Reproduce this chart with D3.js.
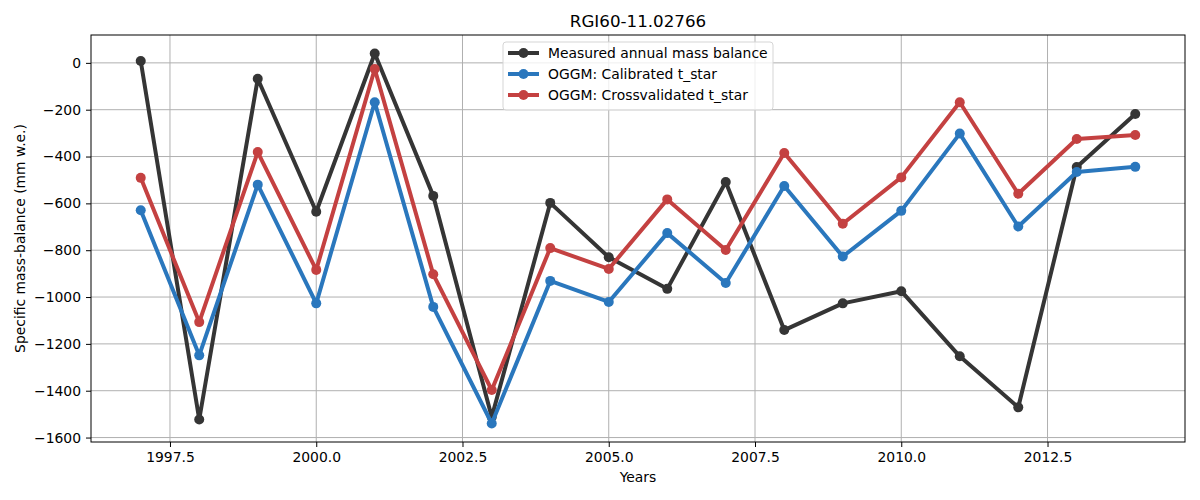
<!DOCTYPE html>
<html>
<head>
<meta charset="utf-8">
<style>
	body{ margin:0; background:#fff; }
	text{ font-family:"DejaVu Sans", sans-serif; fill:#000; }
	.grid line{ stroke:#b0b0b0; stroke-width:1; }
</style>
</head>
<body>
<script src="https://d3js.org/d3.v7.min.js"></script>
<script>

	var width = 1200,
	    height = 500;

	// years and series (mm w.e.)
	var years = [1997, 1998, 1999, 2000, 2001, 2002, 2003, 2004, 2005, 2006, 2007, 2008, 2009, 2010, 2011, 2012, 2013, 2014];
	var measured = [8, -1523, -68, -636, 40, -568, -1512, -598, -830, -965, -509, -1141, -1027, -975, -1253, -1471, -445, -218];
	var calibrated = [-629, -1249, -520, -1027, -168, -1042, -1540, -931, -1021, -727, -940, -526, -827, -632, -302, -699, -466, -444];
	var crossval = [-491, -1107, -381, -884, -26, -903, -1397, -791, -880, -583, -799, -385, -687, -489, -168, -559, -325, -308];

	var seriesNames = ["Measured annual mass balance", "OGGM: Calibrated t_star", "OGGM: Crossvalidated t_star"];
	var seriesColors = ["#353535", "#2a77bd", "#c44141"];
	var xTicks = [1997.5, 2000, 2002.5, 2005, 2007.5, 2010, 2012.5];
	var yTicks = [0, -200, -400, -600, -800, -1000, -1200, -1400, -1600];

	var margin = {left: 91, right: 15, top: 35, bottom: 58};
	var fs = "13.9px";

	var svg = d3.select("body")
		.append("svg")
		.attr("width", width)
		.attr("height", height);

	var x = d3.scaleLinear()
		.domain([1996.15, 2014.85])
		.range([margin.left, width - margin.right]);

	var y = d3.scaleLinear()
		.domain([-1619, 119])
		.range([height - margin.bottom, margin.top]);

	// grid
	var grid = svg.append("g").attr("class", "grid");
	grid.selectAll(".gx").data(xTicks).enter().append("line")
		.attr("x1", d => x(d)).attr("x2", d => x(d))
		.attr("y1", margin.top).attr("y2", height - margin.bottom);
	grid.selectAll(".gy").data(yTicks).enter().append("line")
		.attr("x1", margin.left).attr("x2", width - margin.right)
		.attr("y1", d => y(d)).attr("y2", d => y(d));

	// lines
	var allSeries = [measured, calibrated, crossval];
	var line = d3.line()
		.x((d, i) => x(years[i]))
		.y(d => y(d));

	allSeries.forEach(function(s, k){
		var g = svg.append("g");
		g.append("path")
			.datum(s)
			.attr("d", line)
			.attr("fill", "none")
			.attr("stroke", seriesColors[k])
			.attr("stroke-width", 4)
			.attr("stroke-linejoin", "round");
		g.selectAll("circle").data(s).enter().append("circle")
			.attr("cx", (d, i) => x(years[i]))
			.attr("cy", d => y(d))
			.attr("r", 5)
			.attr("fill", seriesColors[k]);
	});

	// axes
	var xAxis = d3.axisBottom(x).tickValues(xTicks).tickFormat(d3.format(".1f")).tickSizeOuter(0).tickSize(5).tickPadding(5);
	var yAxis = d3.axisLeft(y).tickValues(yTicks).tickFormat(d => d < 0 ? "\u2212" + Math.abs(d) : d).tickSizeOuter(0).tickSize(5).tickPadding(5);

	var gx = svg.append("g")
		.attr("transform", "translate(0," + (height - margin.bottom) + ")")
		.call(xAxis);
	var gy = svg.append("g")
		.attr("transform", "translate(" + margin.left + ",0)")
		.call(yAxis);
	[gx, gy].forEach(function(g){
		g.selectAll("text").style("font-family", "DejaVu Sans").style("font-size", fs).attr("fill", "#000");
		g.selectAll("line").attr("stroke", "#000");
		g.select(".domain").remove();
	});

	// frame
	svg.append("rect")
		.attr("x", margin.left).attr("y", margin.top)
		.attr("width", width - margin.left - margin.right)
		.attr("height", height - margin.top - margin.bottom)
		.attr("fill", "none").attr("stroke", "#000").attr("stroke-width", 1);

	// labels
	svg.append("text")
		.attr("x", (margin.left + width - margin.right) / 2)
		.attr("y", 27)
		.attr("text-anchor", "middle")
		.style("font-size", "16.7px")
		.text("RGI60-11.02766");

	svg.append("text")
		.attr("x", (margin.left + width - margin.right) / 2)
		.attr("y", 482)
		.attr("text-anchor", "middle")
		.style("font-size", fs)
		.text("Years");

	svg.append("text")
		.attr("transform", "translate(25," + ((margin.top + height - margin.bottom) / 2) + ") rotate(-90)")
		.attr("text-anchor", "middle")
		.style("font-size", fs)
		.text("Specific mass-balance (mm w.e.)");

	// legend
	var leg = svg.append("g").attr("transform", "translate(503,42)");
	leg.append("rect")
		.attr("width", 270).attr("height", 68)
		.attr("rx", 3)
		.attr("fill", "#fff").attr("fill-opacity", 0.8)
		.attr("stroke", "#d5d5d5");
	seriesNames.forEach(function(n, k){
		var yy = 11 + k * 21;
		leg.append("line")
			.attr("x1", 5).attr("x2", 36).attr("y1", yy).attr("y2", yy)
			.attr("stroke", seriesColors[k]).attr("stroke-width", 4);
		leg.append("circle")
			.attr("cx", 20.5).attr("cy", yy).attr("r", 5)
			.attr("fill", seriesColors[k]);
		leg.append("text")
			.attr("x", 45).attr("y", yy + 5)
			.style("font-size", fs)
			.text(n);
	});

</script>
</body>
</html>
